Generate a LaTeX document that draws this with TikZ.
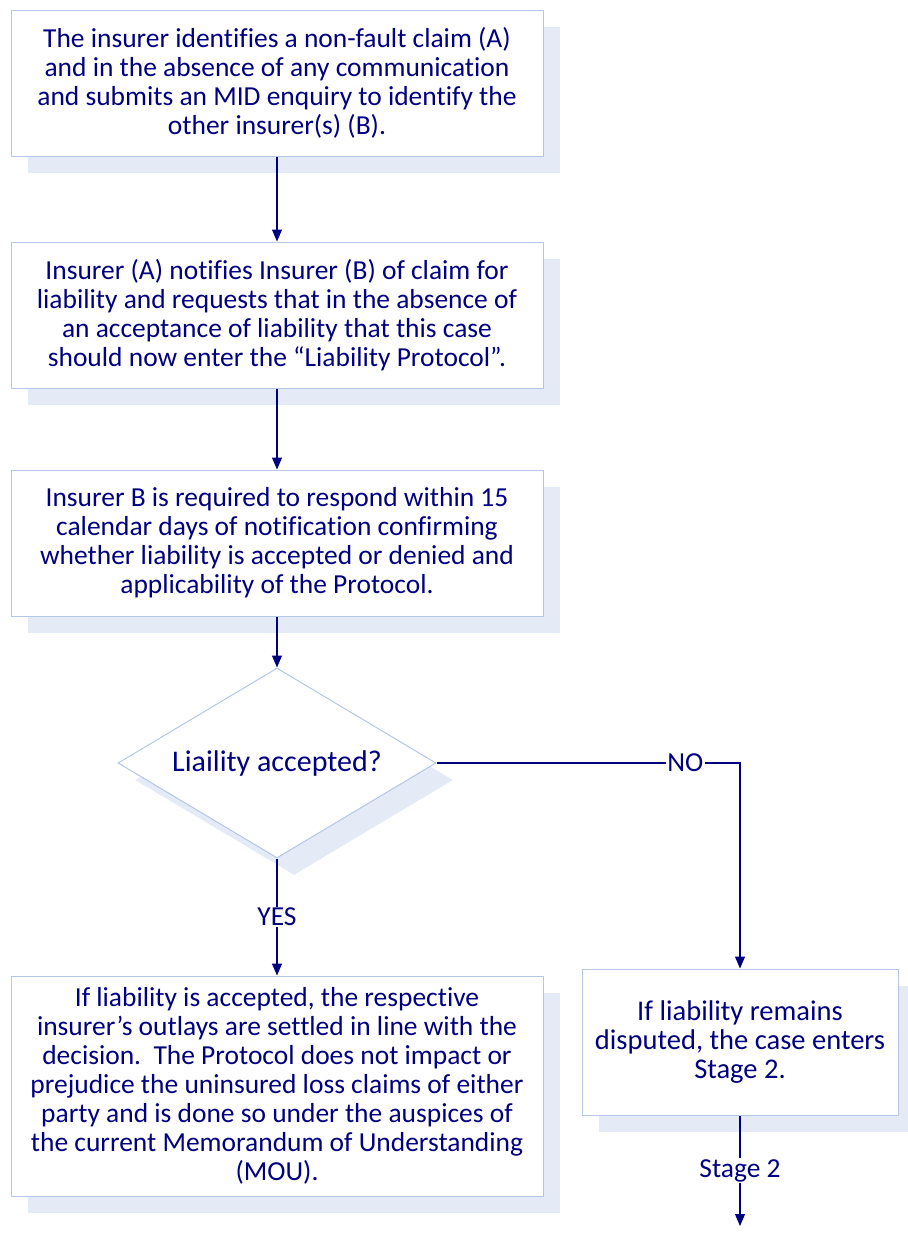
\documentclass[tikz,border=0pt]{standalone}
\usepackage{fontspec}
\setmainfont{Carlito}[Ligatures=NoCommon]
\usetikzlibrary{shapes.geometric,shadows,arrows.meta}
\definecolor{navy}{RGB}{0,0,128}
\definecolor{boxline}{RGB}{180,199,231}
\definecolor{shade}{RGB}{228,234,246}

\begin{document}
\begin{tikzpicture}[x=0.75pt,y=-0.75pt,
  every node/.style={text=navy,font=\fontsize{20.6}{21.75}\selectfont},
  boxshadow/.style={drop shadow={shadow xshift=12.75pt,shadow yshift=-12.75pt,fill=shade,opacity=1}},
  stepbox/.style={draw=boxline,fill=white,line width=0.75pt,align=center,
    minimum width=399pt,minimum height=109.5pt,inner sep=0pt,boxshadow},
  decision/.style={diamond,aspect=1.67,draw=boxline,fill=white,line width=0.75pt,
    minimum width=238.5pt,minimum height=142.5pt,inner sep=0pt,boxshadow},
  flow/.style={draw=navy,line width=0.8pt,-{Triangle[width=7.5pt,length=9pt]}},
  lbl/.style={fill=white,inner sep=1pt}]
\useasboundingbox (0,0) rectangle (907,1235);

% Main column
\node[stepbox] (identify) at (277,83) {The insurer identifies a non-fault claim (A)\\
  and in the absence of any communication\\
  and submits an MID enquiry to identify the\\
  other insurer(s) (B).};
\node[stepbox] (notify) at (277,315) {Insurer (A) notifies Insurer (B) of claim for\\
  liability and requests that in the absence of\\
  an acceptance of liability that this case\\
  should now enter the “Liability Protocol”.};
\node[stepbox] (respond) at (277,543) {Insurer B is required to respond within 15\\
  calendar days of notification confirming\\
  whether liability is accepted or denied and\\
  applicability of the Protocol.};
\node[decision,font=\fontsize{22.5}{24}\selectfont] (accepted) at (277,763) {Liaility accepted?};
\node[stepbox,minimum height=165pt] (settled) at (277,1086) {If liability is accepted, the respective\\
  insurer’s outlays are settled in line with the\\
  decision.\ \ The Protocol does not impact or\\
  prejudice the uninsured loss claims of either\\
  party and is done so under the auspices of\\
  the current Memorandum of Understanding\\
  (MOU).};

% Disputed branch
\node[stepbox,minimum width=237pt,font=\fontsize{21.4}{21.75}\selectfont] (disputed) at (740,1042) {If liability remains\\
  disputed, the case enters\\
  Stage 2.};
\coordinate (stage2) at (740,1226);

% Connectors
\draw[flow] (identify) -- (notify);
\draw[flow] (notify) -- (respond);
\draw[flow] (respond) -- (accepted);
\draw[flow] (accepted.south) -- node[lbl] {YES} (settled);
\draw[flow] (accepted.east) -| node[lbl,pos=0.41] {NO} (disputed.north);
\draw[flow] (disputed) -- node[lbl] {Stage 2} (stage2);
\end{tikzpicture}
\end{document}
